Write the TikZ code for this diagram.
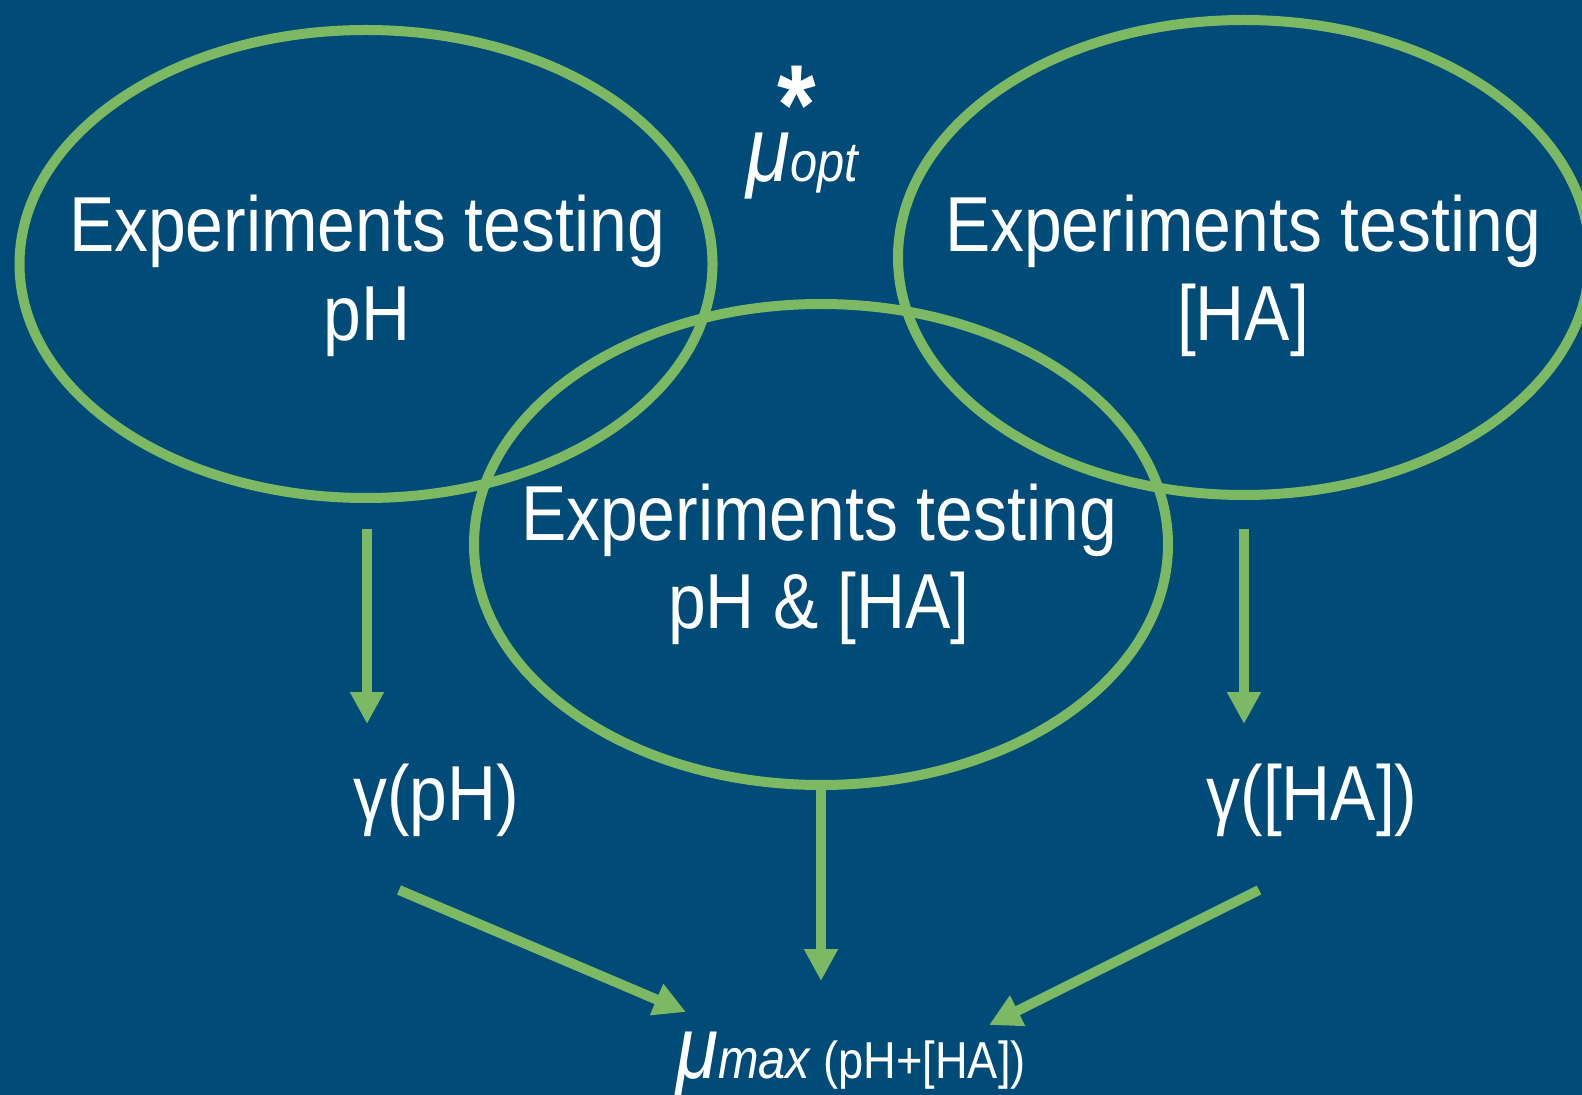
\documentclass[tikz,border=0pt]{standalone}
\usepackage{fontspec}
\setmainfont{Liberation Sans}[FakeStretch=0.87]
\usetikzlibrary{arrows.meta,shapes.geometric}
\definecolor{bg}{RGB}{0,75,120}
\definecolor{grn}{RGB}{125,184,98}
\tikzset{
  ring/.style={draw=grn, line width=5pt, ellipse, inner sep=0pt},
  lbl/.style={text=white, font=\fontsize{39}{44}\selectfont, anchor=base, inner sep=0pt},
  arr/.style={draw=grn, line width=5pt, -{Triangle[width=16pt,length=16pt]}},
}
\begin{document}
\begin{tikzpicture}[x=0.5pt,y=-0.5pt]
\useasboundingbox (0,0) rectangle (1582,1095);
\fill[bg] (0,0) rectangle (1582,1095);
\clip (0,0) rectangle (1582,1095);
% ellipses
\node[ring, minimum width=346.5pt, minimum height=234pt] (L) at (366,264) {};
\node[ring, minimum width=346pt, minimum height=237.5pt] (R) at (1244,257.5) {};
\node[ring, minimum width=347pt, minimum height=240.5pt] (M) at (821,544.5) {};
% texts
\node[lbl] (L1) at (367,252) {Experiments testing};
\node[lbl] (L2) at (367,341) {pH};
\node[lbl] (R1) at (1243,252) {Experiments testing};
\node[lbl] (R2) at (1243,341) {[HA]};
\node[lbl] (M1) at (819,540) {Experiments testing};
\node[lbl] (M2) at (819,628) {pH \& [HA]};
\node[lbl] (GP) at (436,820) {γ(pH)};
\node[lbl] (GH) at (1312,820) {γ([HA])};
\node[lbl, font=\fontsize{57}{57}\selectfont\bfseries] (ast) at (797,108) {\raisebox{-0.32em}[0.36em][0pt]{*}};
\node[lbl] (mopt) at (802,182) {{\itshape\fontsize{46}{46}\selectfont μ}{\itshape\fontsize{28}{28}\selectfont opt}};
\node[lbl] (mmax) at (851,1078) {{\itshape\fontsize{44}{44}\selectfont μ}{\itshape\fontsize{28}{28}\selectfont max}\,{\fontsize{26}{26}\selectfont (pH+[HA])}};
% connector ends
\coordinate (la) at (367,529);
\coordinate (lb) at (367,724);
\coordinate (ra) at (1244,529);
\coordinate (rb) at (1244,724);
\coordinate (mb) at (821,981);
\coordinate (da) at (399,890);
\coordinate (db) at (686,1012);
\coordinate (ea) at (1259,890);
\coordinate (eb) at (989,1025);
\draw[arr] (la) -- (lb);
\draw[arr] (ra) -- (rb);
\draw[arr] (M.south) -- (mb);
\draw[arr] (da) -- (db);
\draw[arr] (ea) -- (eb);
\end{tikzpicture}
\end{document}
